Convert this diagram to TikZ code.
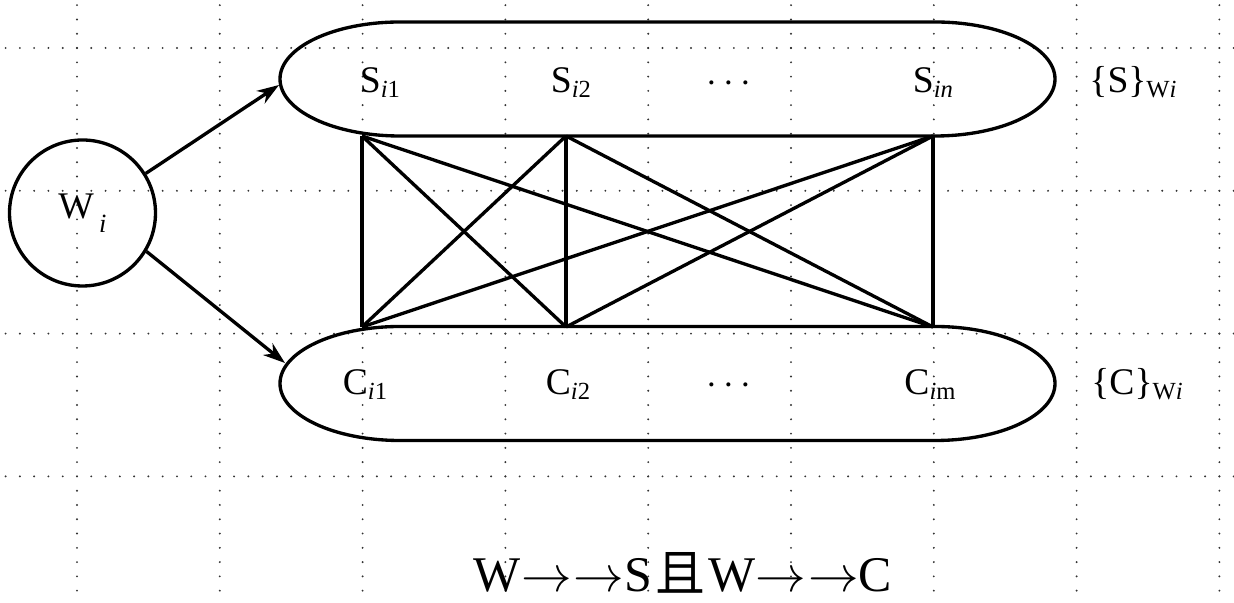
\documentclass[tikz,border=0pt]{standalone}
\usepackage{fontspec}
\setmainfont{Liberation Serif}
\newfontfamily\cjk{Noto Sans CJK SC}
\usepackage{tikz}
\usetikzlibrary{arrows.meta, positioning}
\definecolor{mDot}{HTML}{333333}
\newcommand{\lowsub}[1]{\raisebox{-1.2pt}{\fontsize{7}{8}\selectfont #1}}
\newcommand{\twoarr}{${\rightarrow}\kern0.5pt{\rightarrow}$}

\begin{document}
\begin{tikzpicture}[x=0.1mm, y=0.1mm,
      gridln/.style={mDot, line width=0.6pt, line cap=round, dash pattern=on 0pt off 4.063pt},
      edge/.style={line width=0.95pt},
      arr/.style={line width=0.95pt, -{Stealth[length=2.2mm, width=1.5mm, inset=0.7mm]}},
      lbl/.style={anchor=base, inner sep=0pt, font=\fontsize{10.7}{13}\selectfont}]
    \useasboundingbox (0,0) rectangle (1234,603);
    % dotted grid
    \foreach \k in {0,...,8} \draw[gridln] ({77+142.8*\k},597.8) -- ++(0,-597.8);
    \foreach \k in {0,...,3} \draw[gridln] (5.6,{555-142.8*\k}) -- (1234,{555-142.8*\k});
    % the two sets
    \foreach \yc in {524,219.5}
      \draw[edge] (400,\yc+57) -- (935,\yc+57)
        arc[start angle=90, end angle=-90, x radius=120, y radius=57]
        -- (400,\yc-57)
        arc[start angle=270, end angle=90, x radius=120, y radius=57] -- cycle;
    % word
    \node[draw, circle, line width=0.95pt, minimum size=14.6mm, inner sep=0pt,
      font=\fontsize{10.7}{13}\selectfont] (w) at (82.5,390)
      {W\hspace{1.5pt}\raisebox{-4pt}{\fontsize{7.5}{8}\selectfont\textit{i}}};
    % ends of the links
    \coordinate (s1) at (362,467);
    \coordinate (s2) at (566,467);
    \coordinate (sn) at (933,467);
    \coordinate (c1) at (362,276);
    \coordinate (c2) at (566,276);
    \coordinate (cm) at (933,276);
    \foreach \a in {s1,s2,sn} \foreach \b in {c1,c2,cm} \draw[edge] (\a) -- (\b);
    \coordinate (sEnt) at (279,518);
    \coordinate (cEnt) at (285,240);
    \draw[arr] (w.32) -- (sEnt);
    \draw[arr] (w.-31) -- (cEnt);
    % labels
    \node[lbl] (lS1) at (380,510) {S\lowsub{\textit{i}1}};
    \node[lbl] (lS2) at (571,510) {S\lowsub{\textit{i}2}};
    \node[lbl] (lSdots) at (729,510) {$\cdots$};
    \node[lbl] (lSn) at (933,510) {S\lowsub{\textit{in}}};
    \node[lbl] (setS) at (1133,510) {\{S\}\lowsub{W\textit{i}}};
    \node[lbl] (lC1) at (365,208) {C\lowsub{\textit{i}1}};
    \node[lbl] (lC2) at (568,208) {C\lowsub{\textit{i}2}};
    \node[lbl] (lCdots) at (729,208) {$\cdots$};
    \node[lbl] (lCm) at (930,208) {C\lowsub{\textit{i}m}};
    \node[lbl] (setC) at (1137,208) {\{C\}\lowsub{W\textit{i}}};
    \node[anchor=base, inner sep=0pt, font=\fontsize{14.2}{17}\selectfont] (rule) at (683,11)
      {W\twoarr S\kern1pt{\cjk 且}\kern1pt W\twoarr C};
  \end{tikzpicture}
\end{document}
